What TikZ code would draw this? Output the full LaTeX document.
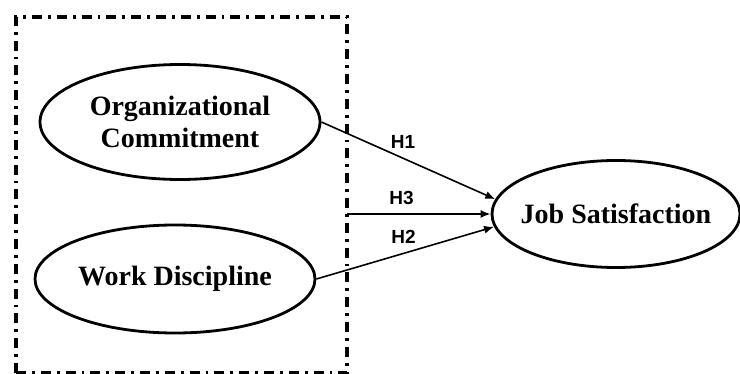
\documentclass[tikz,border=0pt]{standalone}
\usepackage{fontspec}
\setmainfont{Liberation Serif}
\setsansfont{Liberation Sans}
\usetikzlibrary{shapes.geometric,arrows.meta}

\begin{document}
\begin{tikzpicture}[x=0.5pt,y=-0.5pt,
  latent/.style={ellipse,draw=black,line width=1.4pt,inner sep=0pt,align=center,
    font=\fontsize{14}{16}\selectfont\bfseries},
  path/.style={line width=0.8pt,-{Latex[length=5pt,width=4pt]}},
  hyp/.style={font=\sffamily\bfseries\fontsize{9.5}{11}\selectfont,above=1pt}]
\useasboundingbox (0,0) rectangle (740,374);

\draw[line width=1.6pt,dash pattern=on 5pt off 3pt on 1.4pt off 3pt] (16,373) -- (16,17) -- (347,17) -- (347,373) -- cycle;

\node[latent,minimum width=140pt,minimum height=57.5pt] (oc) at (180,122) {Organizational\\Commitment};
\node[latent,minimum width=140pt,minimum height=54pt] (wd) at (175,279) {Work Discipline};
\node[latent,minimum width=124pt,minimum height=53.5pt,inner xsep=-6pt] (js) at (616,214) {Job Satisfaction};
\coordinate (mod) at (347,214);

\draw[path] (oc.east) -- node[hyp,pos=0.47] {H1} (js.173);
\draw[path] (mod) -- node[hyp,pos=0.38] {H3} (js.west);
\draw[path] (wd.east) -- node[hyp,pos=0.49] {H2} (js.186);
\end{tikzpicture}
\end{document}
